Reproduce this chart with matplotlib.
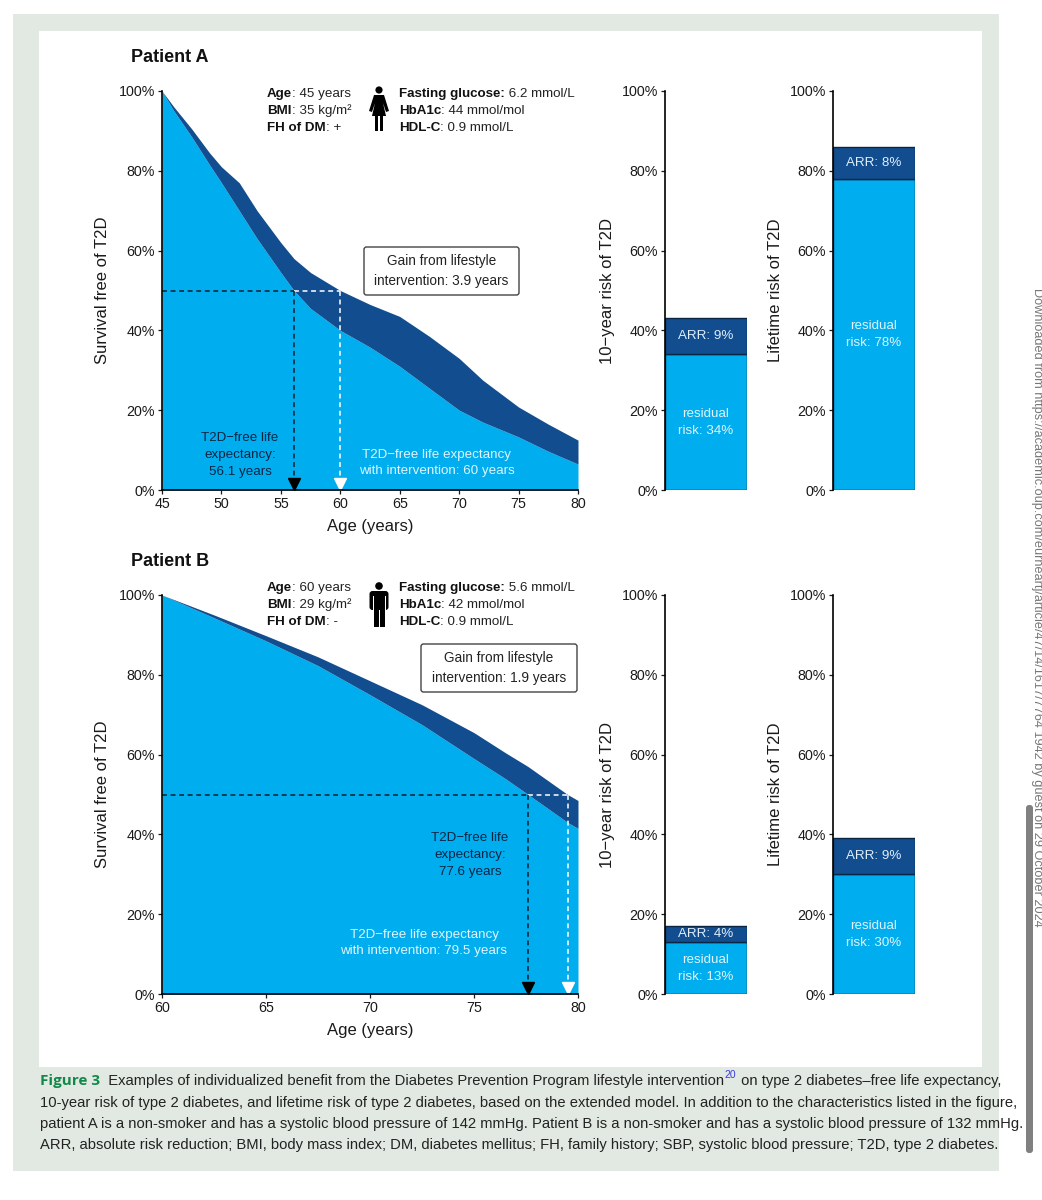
#!/usr/bin/env python3
"""Individualized lifestyle benefit figure: survival curves plus risk bars for two patients."""
import matplotlib
matplotlib.use("Agg")
import matplotlib.pyplot as plt
from matplotlib.patches import Circle, FancyBboxPatch, Polygon, Rectangle

W, H = 1042, 1200
LIGHT = "#00adee"
DARK = "#124e8f"
INK = "#1a1a1a"

plt.rcParams["font.family"] = ["Liberation Sans", "DejaVu Sans"]

# survival free of T2D
ages_a = [45, 46, 47.5, 49, 50, 51.5, 53, 55, 56.1, 57.5, 60, 62.5, 65, 67.5, 70, 72, 75, 77.5, 80]
with_a = [100, 96, 90.5, 84.5, 81, 77, 70, 62, 58, 54.5, 50, 46.5, 43.5, 38.5, 33, 27.5, 20.8, 16.5, 12.5]
without_a = [100, 95, 88.5, 81.5, 77, 70, 63, 54.5, 50, 45.5, 40, 35.8, 31, 25.5, 20, 17, 13.3, 9.7, 6.5]

ages_b = [60, 62.5, 65, 67.5, 70, 72.5, 75, 76.5, 77.6, 79.5, 80]
with_b = [100, 95, 89.8, 84.5, 78.5, 72.5, 65.5, 60.5, 57, 50, 48.5]
without_b = [100, 94.3, 88.5, 82.3, 75, 67.5, 59, 54, 50, 43, 41.5]

ticks_a = [45, 50, 55, 60, 65, 70, 75, 80]
ticks_b = [60, 65, 70, 75, 80]
pct_ticks = [0, 20, 40, 60, 80, 100]

# stacked risk bars (residual, absolute risk reduction)
ten_year_a = [34, 9]
lifetime_a = [78, 8]
ten_year_b = [13, 4]
lifetime_b = [30, 9]

# life expectancy at 50% survival
le_a = [56.1, 60]
le_b = [77.6, 79.5]
half = 50

caption_lines = [
    "10-year risk of type 2 diabetes, and lifetime risk of type 2 diabetes, based on the extended model. In addition to the characteristics listed in the figure,",
    "patient A is a non-smoker and has a systolic blood pressure of 142 mmHg. Patient B is a non-smoker and has a systolic blood pressure of 132 mmHg.",
    "ARR, absolute risk reduction; BMI, body mass index; DM, diabetes mellitus; FH, family history; SBP, systolic blood pressure; T2D, type 2 diabetes.",
]

fig = plt.figure(figsize=(W / 100, H / 100), dpi=100, facecolor="white")


def px_axes(left, top, right, bottom):
    return fig.add_axes([left / W, 1 - bottom / H, (right - left) / W, (bottom - top) / H])


# page furniture in pixel coordinates, behind and in front of the charts
bg = fig.add_axes([0, 0, 1, 1], zorder=-1)
bg.set_xlim(0, W)
bg.set_ylim(H, 0)
bg.axis("off")
bg.add_patch(Rectangle((13, 14), 986, 1157, fc="#e2e9e2", ec="none"))
bg.add_patch(Rectangle((39, 31), 943, 1036, fc="white", ec="none"))
bg.add_patch(FancyBboxPatch((1026, 805), 7, 348, boxstyle="round,pad=0,rounding_size=3",
                            fc="#808080", ec="none"))
bg.text(1037, 288, "Downloaded from https://academic.oup.com/eurheartj/article/47/14/1617/7764 1942 by guest on 29 October 2024",
        rotation=-90, ha="center", va="top", fontsize=9.2, color="#777777")

top = fig.add_axes([0, 0, 1, 1], zorder=10)
top.set_xlim(0, W)
top.set_ylim(H, 0)
top.axis("off")
top.patch.set_alpha(0)


def survival_panel(y_top, ages, upper, lower, ticks, le):
    ax = px_axes(162, y_top, 578, y_top + 399)
    ax.fill_between(ages, 0, lower, color=LIGHT, lw=0)
    ax.fill_between(ages, lower, upper, color=DARK, lw=0)
    ax.set_xlim(ages[0], ages[-1])
    ax.set_ylim(0, 100)
    ax.set_xticks(ticks)
    ax.set_yticks(pct_ticks)
    ax.set_yticklabels([f"{p}%" for p in pct_ticks])
    ax.tick_params(labelsize=10.3, length=3, width=0.9, pad=2, colors=INK)
    ax.spines[["top", "right"]].set_visible(False)
    ax.spines[["left", "bottom"]].set_linewidth(1.2)
    ax.set_xlabel("Age (years)", fontsize=12, color=INK, labelpad=6)
    ax.set_ylabel("Survival free of T2D", fontsize=12, color=INK, labelpad=6)
    dash = dict(lw=1.1, ls=(0, (3.2, 2.4)))
    ax.plot([ages[0], le[0]], [half, half], color="#0b1f33", **dash)
    ax.plot([le[0], le[1]], [half, half], color="white", **dash)
    ax.plot([le[0], le[0]], [half, 2], color="#0b1f33", **dash)
    ax.plot([le[1], le[1]], [half, 2], color="white", **dash)
    ax.plot(le[0], 1.4, "v", color="black", ms=8, clip_on=False)
    ax.plot(le[1], 1.4, "v", mfc="white", mec="white", ms=8, clip_on=False)
    return ax


def risk_bar(left, y_top, values, ylabel, arr_size=9.6):
    ax = px_axes(left, y_top, left + 82, y_top + 399)
    residual, arr = values
    ax.bar(0, residual, width=1, color=LIGHT, edgecolor="#0b2545", lw=1)
    ax.bar(0, arr, width=1, bottom=residual, color=DARK, edgecolor="#0b2545", lw=1)
    ax.set_xlim(-0.5, 0.5)
    ax.set_ylim(0, 100)
    ax.set_xticks([])
    ax.set_yticks(pct_ticks)
    ax.set_yticklabels([f"{p}%" for p in pct_ticks])
    ax.tick_params(labelsize=10.3, length=3, width=0.9, pad=2, colors=INK)
    ax.spines[["top", "right", "bottom"]].set_visible(False)
    ax.spines["left"].set_linewidth(1.2)
    ax.set_ylabel(ylabel, fontsize=12, color=INK, labelpad=5)
    ax.text(0, residual + arr / 2, f"ARR: {arr}%", color="#dfeefa", ha="center", va="center", fontsize=arr_size)
    ax.text(0, residual / 2, f"residual\nrisk: {residual}%", color="#dff4fd", ha="center", va="center",
            fontsize=9.6, linespacing=1.55)
    return ax


def bold_then_plain(x, y, bold, plain):
    t = top.text(x, y, bold, fontweight="bold", fontsize=9.6, color="#111111", va="center")
    top.annotate(plain, xy=(1, 0), xycoords=t, va="bottom", fontsize=9.6, color="#222222")


def gain_box(x, y, w, h, lines):
    top.add_patch(FancyBboxPatch((x, y), w, h, boxstyle="round,pad=0,rounding_size=2.5",
                                 fc="white", ec="#444444", lw=1))
    top.text(x + w / 2, y + h / 2, lines, ha="center", va="center", fontsize=9.8, color="#222222", linespacing=1.55)


def woman(cx, y0):
    top.add_patch(Circle((cx, y0 + 4), 3.6, fc="black", ec="none"))
    top.add_patch(Polygon([(cx - 5, y0 + 9), (cx + 5, y0 + 9), (cx + 10, y0 + 25), (cx + 7, y0 + 26), (cx + 4, y0 + 17),
                           (cx + 7, y0 + 30), (cx - 7, y0 + 30), (cx - 4, y0 + 17), (cx - 7, y0 + 26), (cx - 10, y0 + 25)],
                          fc="black", ec="none"))
    top.add_patch(Rectangle((cx - 4, y0 + 30), 3.2, 15, fc="black", ec="none"))
    top.add_patch(Rectangle((cx + 0.8, y0 + 30), 3.2, 15, fc="black", ec="none"))


def man(cx, y0):
    top.add_patch(Circle((cx, y0 + 4), 3.8, fc="black", ec="none"))
    top.add_patch(FancyBboxPatch((cx - 9.5, y0 + 9), 19, 19, boxstyle="round,pad=0,rounding_size=3", fc="black", ec="none"))
    top.add_patch(Rectangle((cx - 6.5, y0 + 14), 1, 15, fc="white", ec="none"))
    top.add_patch(Rectangle((cx + 5.5, y0 + 14), 1, 15, fc="white", ec="none"))
    top.add_patch(Rectangle((cx - 5.5, y0 + 24), 5, 21, fc="black", ec="none"))
    top.add_patch(Rectangle((cx + 0.5, y0 + 24), 5, 21, fc="black", ec="none"))
    top.add_patch(Rectangle((cx - 9.5, y0 + 28), 3, 2, fc="white", ec="none"))
    top.add_patch(Rectangle((cx + 6.5, y0 + 28), 3, 2, fc="white", ec="none"))


# Patient A
survival_panel(91, ages_a, with_a, without_a, ticks_a, le_a)
risk_bar(665, 91, ten_year_a, "10\u2212year risk of T2D")
risk_bar(833, 91, lifetime_a, "Lifetime risk of T2D")
top.text(131, 57, "Patient A", fontweight="bold", fontsize=13, va="center", color="#111111")
bold_then_plain(267, 94, "Age", ": 45 years")
bold_then_plain(267, 111, "BMI", ": 35 kg/m\u00b2")
bold_then_plain(267, 128, "FH of DM", ": +")
bold_then_plain(399, 94, "Fasting glucose:", " 6.2 mmol/L")
bold_then_plain(399, 111, "HbA1c", ": 44 mmol/mol")
bold_then_plain(399, 128, "HDL-C", ": 0.9 mmol/L")
woman(379, 86)
gain_box(364, 247, 155, 48, "Gain from lifestyle\nintervention: 3.9 years")
top.text(240, 455, "T2D\u2212free life\nexpectancy:\n56.1 years", ha="center", va="center", fontsize=9.6,
         color="#0b2545", linespacing=1.55)
top.text(437, 463, "T2D\u2212free life expectancy\nwith intervention: 60 years", ha="center", va="center", fontsize=9.6,
         color="#dff4fd", linespacing=1.55)

# Patient B
survival_panel(595, ages_b, with_b, without_b, ticks_b, le_b)
risk_bar(665, 595, ten_year_b, "10\u2212year risk of T2D")
risk_bar(833, 595, lifetime_b, "Lifetime risk of T2D")
top.text(131, 561, "Patient B", fontweight="bold", fontsize=13, va="center", color="#111111")
bold_then_plain(267, 588, "Age", ": 60 years")
bold_then_plain(267, 605, "BMI", ": 29 kg/m\u00b2")
bold_then_plain(267, 622, "FH of DM", ": -")
bold_then_plain(399, 588, "Fasting glucose:", " 5.6 mmol/L")
bold_then_plain(399, 605, "HbA1c", ": 42 mmol/mol")
bold_then_plain(399, 622, "HDL-C", ": 0.9 mmol/L")
man(379, 582)
gain_box(421, 644, 156, 48, "Gain from lifestyle\nintervention: 1.9 years")
top.text(470, 855, "T2D\u2212free life\nexpectancy:\n77.6 years", ha="center", va="center", fontsize=9.6,
         color="#0b2545", linespacing=1.55)
top.text(424, 943, "T2D\u2212free life expectancy\nwith intervention: 79.5 years", ha="center", va="center", fontsize=9.6,
         color="#dff4fd", linespacing=1.55)

# caption
cap = dict(family=["Liberation Sans Narrow", "Liberation Sans"], fontsize=10.6, color="#222222", va="center")
fig3 = top.text(40, 1081, "Figure 3", fontweight="bold", family=["Open Sans", "Liberation Sans"], fontsize=11,
                color="#12894a", va="center")
first = top.annotate("  Examples of individualized benefit from the Diabetes Prevention Program lifestyle intervention",
                     xy=(1, 0), xycoords=fig3, va="bottom", **{k: v for k, v in cap.items() if k != "va"})
sup = top.annotate("20", xy=(1, 0.55), xycoords=first, va="bottom", family=cap["family"], fontsize=7.5, color="#3a3adf")
top.annotate(" on type 2 diabetes\u2013free life expectancy,", xy=(1, 0), xycoords=first, xytext=(9, 0),
             textcoords="offset points", va="bottom", family=cap["family"], fontsize=cap["fontsize"], color=cap["color"])
for y, line in zip([1103, 1124, 1145], caption_lines):
    top.text(40, y, line, **cap)

fig.savefig("out.png", dpi=100)
print("wrote out.png")
